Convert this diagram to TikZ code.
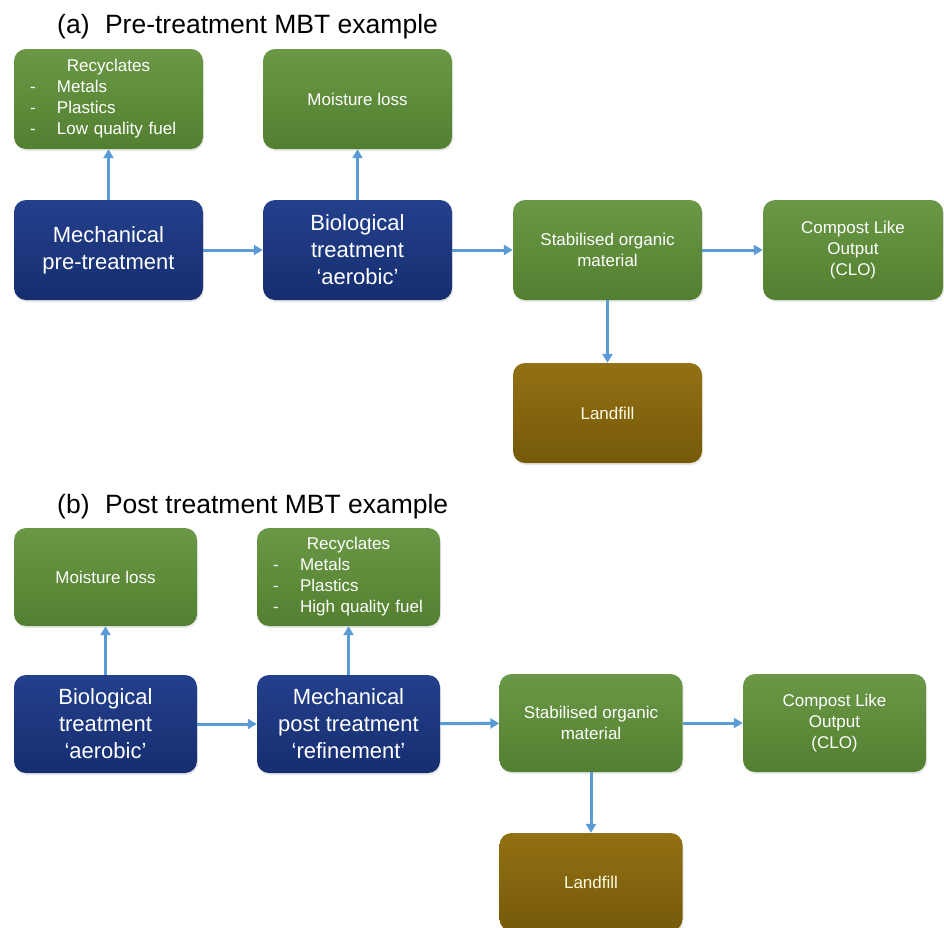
\documentclass[tikz,border=0pt]{standalone}
\usepackage{fontspec}
\setmainfont{Liberation Sans}
\usetikzlibrary{arrows.meta,shadows}
\definecolor{gtop}{RGB}{106,152,70}
\definecolor{gbot}{RGB}{82,128,48}
\definecolor{btop}{RGB}{36,64,140}
\definecolor{bbot}{RGB}{22,46,112}
\definecolor{ltop}{RGB}{146,112,20}
\definecolor{lbot}{RGB}{118,90,10}
\definecolor{arr}{RGB}{91,155,213}
\definecolor{ltxt}{RGB}{255,250,225}
\tikzset{
  box/.style={rounded corners=12pt, inner sep=0pt, align=center, text=white,
    drop shadow={opacity=0.18, shadow xshift=1pt, shadow yshift=-2pt}},
  gbox/.style={box, top color=gtop, bottom color=gbot, font=\fontsize{17}{21}\selectfont},
  bbox/.style={box, top color=btop, bottom color=bbot, font=\fontsize{22}{27}\selectfont},
  lbox/.style={box, top color=ltop, bottom color=lbot, text=ltxt, font=\fontsize{17}{21}\selectfont},
  wa/.style={minimum width=189pt, minimum height=100pt},
  wb/.style={minimum width=183pt, minimum height=98pt},
  flow/.style={draw=arr, line width=3pt, -{Triangle[length=9pt,width=10pt]}},
  ttl/.style={anchor=base west, inner sep=0pt, font=\fontsize{26.5}{30}\selectfont},
}
\newcommand{\itm}[1]{\makebox[27pt][l]{-}#1}
\begin{document}
\begin{tikzpicture}[x=1pt,y=-1pt]
\useasboundingbox (0,0) rectangle (944,927);
\clip (0,0) rectangle (944,927);
% (a)
\node[ttl] (ta) at (57,33) {(a)\hspace{15.5pt}Pre-treatment MBT example};
\node[gbox, wa, align=left, text width=157pt] (recA) at (108.5,99) {\makebox[\linewidth]{Recyclates}\\\itm{Metals}\\\itm{Plastics}\\\itm{Low quality fuel}};
\node[gbox, wa] (moiA) at (357.5,99) {Moisture loss};
\node[bbox, wa] (mecA) at (108.5,250) {Mechanical\\pre-treatment};
\node[bbox, wa] (bioA) at (357.5,250) {Biological\\treatment\\‘aerobic’};
\node[gbox, wa] (staA) at (607.5,250) {Stabilised organic\\material};
\node[gbox, minimum width=180pt, minimum height=100pt] (cloA) at (853,250) {Compost Like\\Output\\(CLO)};
\node[lbox, wa] (lanA) at (607.5,413) {Landfill};
\draw[flow] (mecA) -- (recA);
\draw[flow] (bioA) -- (moiA);
\draw[flow] (mecA) -- (bioA);
\draw[flow] (bioA) -- (staA);
\draw[flow] (staA) -- (cloA);
\draw[flow] (staA) -- (lanA);
% (b)
\node[ttl] (tb) at (57,513) {(b)\hspace{15.5pt}Post treatment MBT example};
\node[gbox, wb] (moiB) at (105.5,577) {Moisture loss};
\node[gbox, wb, align=left, text width=151pt] (recB) at (348.5,577) {\makebox[\linewidth]{Recyclates}\\\itm{Metals}\\\itm{Plastics}\\\itm{High quality fuel}};
\node[bbox, wb] (bioB) at (105.5,724) {Biological\\treatment\\‘aerobic’};
\node[bbox, wb] (mecB) at (348.5,724) {Mechanical\\post treatment\\‘refinement’};
\node[gbox, wb] (staB) at (591,723) {Stabilised organic\\material};
\node[gbox, wb] (cloB) at (834.5,723) {Compost Like\\Output\\(CLO)};
\node[lbox, wb] (lanB) at (591,882) {Landfill};
\draw[flow] (bioB) -- (moiB);
\draw[flow] (mecB) -- (recB);
\draw[flow] (bioB) -- (mecB);
\draw[flow] (mecB) -- (staB);
\draw[flow] (staB) -- (cloB);
\draw[flow] (staB) -- (lanB);
\end{tikzpicture}
\end{document}
